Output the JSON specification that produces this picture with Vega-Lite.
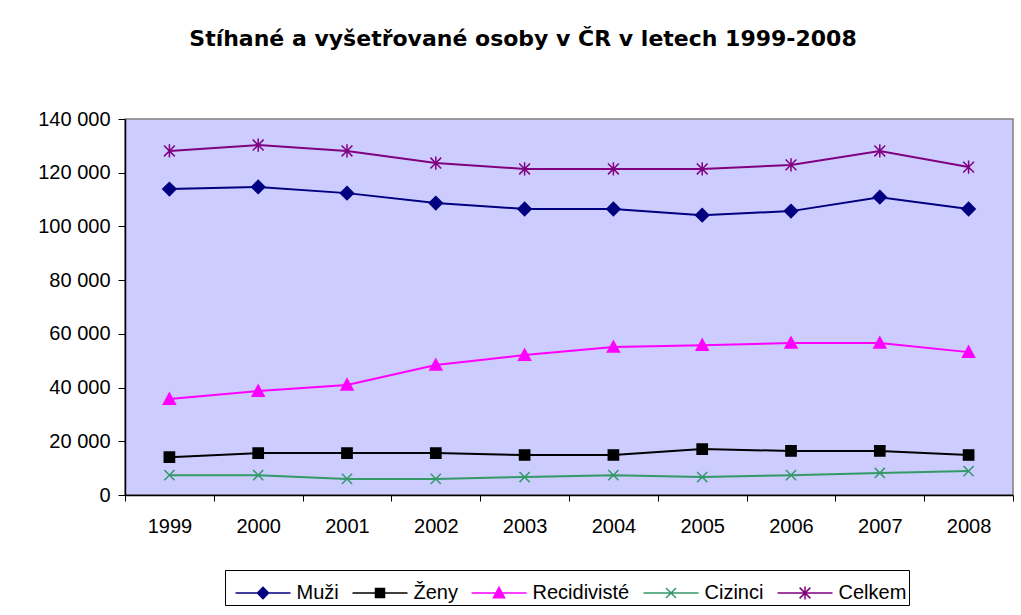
{
  "$schema": "https://vega.github.io/schema/vega-lite/v6.json",
  "autosize": "none",
  "width": 888,
  "height": 376,
  "padding": {"left": 125, "top": 119, "right": 8, "bottom": 120},
  "background": "white",
  "title": {
    "text": "Stíhané a vyšetřované osoby v ČR v letech 1999-2008",
    "font": "DejaVu Sans",
    "fontSize": 22,
    "fontWeight": "bold",
    "color": "black",
    "anchor": "middle",
    "frame": "group",
    "dx": -46,
    "offset": 41,
    "baseline": "alphabetic"
  },
  "config": {
    "view": {"fill": "#CCCCFF", "stroke": "#808080", "strokeWidth": 1.5},
    "axis": {"labelFont": "Liberation Sans", "labelFontSize": 20, "labelColor": "black", "domainColor": "black", "tickColor": "black", "grid": false, "title": null},
    "legend": {
      "orient": "none", "legendX": 100, "legendY": 451, "direction": "horizontal",
      "strokeColor": "black", "fillColor": "white", "padding": 2,
      "labelFont": "Liberation Sans", "labelFontSize": 20, "labelColor": "black", "labelOffset": 27.5, "columnPadding": 5, "labelLimit": 300,
      "symbolSize": 1600, "symbolStrokeWidth": 1.5, "symbolOpacity": 1
    }
  },
  "data": {
    "values": [
      {"year": "1999", "series": "Muži", "value": 113900},
      {"year": "2000", "series": "Muži", "value": 114700},
      {"year": "2001", "series": "Muži", "value": 112400},
      {"year": "2002", "series": "Muži", "value": 108700},
      {"year": "2003", "series": "Muži", "value": 106500},
      {"year": "2004", "series": "Muži", "value": 106500},
      {"year": "2005", "series": "Muži", "value": 104200},
      {"year": "2006", "series": "Muži", "value": 105700},
      {"year": "2007", "series": "Muži", "value": 110900},
      {"year": "2008", "series": "Muži", "value": 106500},
      {"year": "1999", "series": "Ženy", "value": 14100},
      {"year": "2000", "series": "Ženy", "value": 15600},
      {"year": "2001", "series": "Ženy", "value": 15600},
      {"year": "2002", "series": "Ženy", "value": 15600},
      {"year": "2003", "series": "Ženy", "value": 14900},
      {"year": "2004", "series": "Ženy", "value": 14900},
      {"year": "2005", "series": "Ženy", "value": 17100},
      {"year": "2006", "series": "Ženy", "value": 16400},
      {"year": "2007", "series": "Ženy", "value": 16400},
      {"year": "2008", "series": "Ženy", "value": 14900},
      {"year": "1999", "series": "Recidivisté", "value": 35700},
      {"year": "2000", "series": "Recidivisté", "value": 38700},
      {"year": "2001", "series": "Recidivisté", "value": 41000},
      {"year": "2002", "series": "Recidivisté", "value": 48400},
      {"year": "2003", "series": "Recidivisté", "value": 52100},
      {"year": "2004", "series": "Recidivisté", "value": 55100},
      {"year": "2005", "series": "Recidivisté", "value": 55800},
      {"year": "2006", "series": "Recidivisté", "value": 56600},
      {"year": "2007", "series": "Recidivisté", "value": 56600},
      {"year": "2008", "series": "Recidivisté", "value": 53200},
      {"year": "1999", "series": "Cizinci", "value": 7400},
      {"year": "2000", "series": "Cizinci", "value": 7400},
      {"year": "2001", "series": "Cizinci", "value": 6000},
      {"year": "2002", "series": "Cizinci", "value": 6000},
      {"year": "2003", "series": "Cizinci", "value": 6700},
      {"year": "2004", "series": "Cizinci", "value": 7400},
      {"year": "2005", "series": "Cizinci", "value": 6700},
      {"year": "2006", "series": "Cizinci", "value": 7400},
      {"year": "2007", "series": "Cizinci", "value": 8200},
      {"year": "2008", "series": "Cizinci", "value": 8900},
      {"year": "1999", "series": "Celkem", "value": 128100},
      {"year": "2000", "series": "Celkem", "value": 130300},
      {"year": "2001", "series": "Celkem", "value": 128100},
      {"year": "2002", "series": "Celkem", "value": 123600},
      {"year": "2003", "series": "Celkem", "value": 121400},
      {"year": "2004", "series": "Celkem", "value": 121400},
      {"year": "2005", "series": "Celkem", "value": 121400},
      {"year": "2006", "series": "Celkem", "value": 122900},
      {"year": "2007", "series": "Celkem", "value": 128100},
      {"year": "2008", "series": "Celkem", "value": 122100}
    ]
  },
  "encoding": {
    "x": {
      "field": "year", "type": "ordinal",
      "scale": {"type": "band", "paddingInner": 0, "paddingOuter": 0},
      "axis": {"labelAngle": 0, "tickBand": "extent", "tickSize": 6, "labelPadding": 15, "domainWidth": 1.5}
    },
    "y": {
      "field": "value", "type": "quantitative",
      "scale": {"domain": [0, 140000], "nice": false},
      "axis": {"values": [0, 20000, 40000, 60000, 80000, 100000, 120000, 140000], "labelExpr": "replace(format(datum.value, ','), ',', ' ')", "tickSize": 7, "labelPadding": 8, "domainWidth": 1.5}
    }
  },
  "layer": [
    {
      "mark": {"type": "line", "strokeWidth": 2},
      "encoding": {
        "color": {
          "field": "series", "type": "nominal",
          "scale": {"domain": ["Muži", "Ženy", "Recidivisté", "Cizinci", "Celkem"], "range": ["#000080", "#000000", "#FF00FF", "#339966", "#800080"]},
          "legend": {"title": null}
        }
      }
    },
    {
      "mark": {"type": "point", "filled": true, "opacity": 1, "size": 144, "strokeWidth": 1.5},
      "encoding": {
        "color": {"field": "series", "type": "nominal", "legend": {"title": null}},
        "stroke": {
          "field": "series", "type": "nominal",
          "scale": {"domain": ["Muži", "Ženy", "Recidivisté", "Cizinci", "Celkem"], "range": ["#000080", "#000000", "#FF00FF", "#339966", "#800080"]},
          "legend": {"title": null}
        },
        "shape": {
          "condition": [
            {"test": "datum.series === 'Muži'", "value": "M0,-1.1L1.1,0L0,1.1L-1.1,0Z"},
            {"test": "datum.series === 'Ženy'", "value": "M-0.85,-0.85H0.85V0.85H-0.85Z"},
            {"test": "datum.series === 'Recidivisté'", "value": "M0,-1L1,0.85H-1Z"},
            {"test": "datum.series === 'Cizinci'", "value": "M-0.85,-0.85L0.85,0.85M-0.85,0.85L0.85,-0.85"}
          ],
          "value": "M-0.9,-0.9L0.9,0.9M-0.9,0.9L0.9,-0.9M0,-1.1V1.1"
        }
      }
    },
    {
      "transform": [{"filter": "false"}],
      "mark": {"type": "point", "filled": true, "opacity": 1, "strokeWidth": 1.5},
      "encoding": {
        "color": {"field": "series", "type": "nominal", "legend": {"title": null}},
        "stroke": {"field": "series", "type": "nominal", "legend": {"title": null}},
        "shape": {
          "field": "series", "type": "nominal",
          "scale": {"domain": ["Muži", "Ženy", "Recidivisté", "Cizinci", "Celkem"], "range": [
            "M-0.625,0H2.125M0.75,-0.28L1.03,0L0.75,0.28L0.47,0Z",
            "M-0.625,0H2.125M0.525,-0.225H0.975V0.225H0.525Z",
            "M-0.625,0H2.125M0.75,-0.28L1.03,0.24H0.47Z",
            "M-0.625,0H2.125M0.5,-0.25L1,0.25M0.5,0.25L1,-0.25",
            "M-0.625,0H2.125M0.48,-0.27L1.02,0.27M0.48,0.27L1.02,-0.27M0.75,-0.33V0.33"
          ]},
          "legend": {"title": null}
        }
      }
    }
  ]
}
